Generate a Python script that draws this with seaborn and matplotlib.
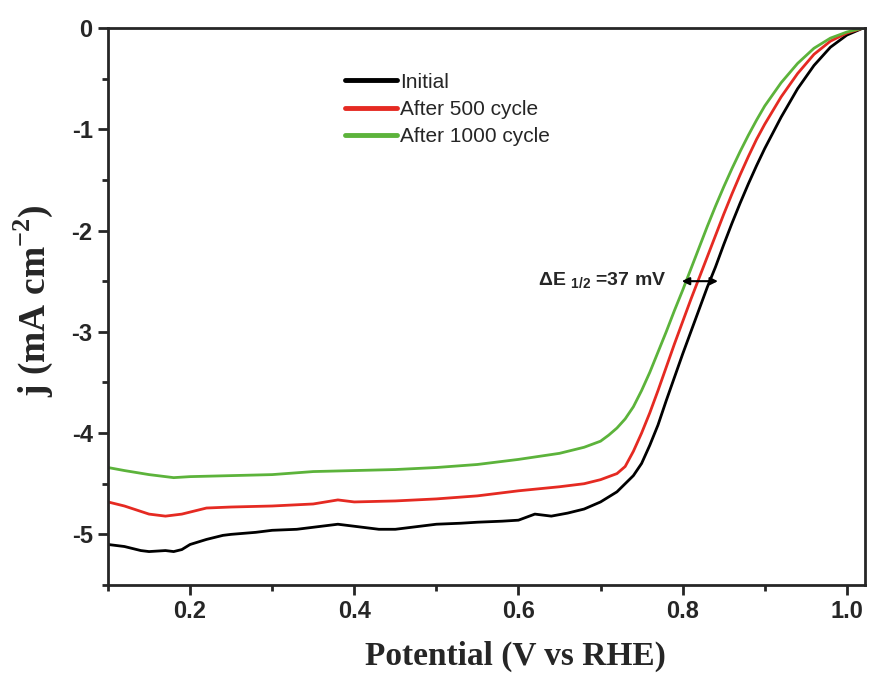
import numpy as np
import pandas as pd
import matplotlib
matplotlib.use("Agg")
import matplotlib.pyplot as plt
from matplotlib.ticker import MultipleLocator
import seaborn as sns

# LSV curves (potential in V vs RHE, current density in mA cm-2)
initial_v = [0.10, 0.12, 0.14, 0.15, 0.17, 0.18, 0.19, 0.20, 0.22, 0.24, 0.25, 0.28,
             0.30, 0.33, 0.35, 0.38, 0.40, 0.43, 0.45, 0.48, 0.50, 0.53, 0.55, 0.58,
             0.60, 0.62, 0.64, 0.66, 0.68, 0.70, 0.72, 0.73, 0.74, 0.75, 0.76, 0.77,
             0.78, 0.79, 0.80, 0.81, 0.82, 0.83, 0.84, 0.85, 0.86, 0.87, 0.88, 0.89,
             0.90, 0.92, 0.94, 0.96, 0.98, 1.00, 1.02]
initial_j = [-5.10, -5.12, -5.16, -5.17, -5.16, -5.17, -5.15, -5.10, -5.05, -5.01, -5.00, -4.98,
             -4.96, -4.95, -4.93, -4.90, -4.92, -4.95, -4.95, -4.92, -4.90, -4.89, -4.88, -4.87,
             -4.86, -4.80, -4.82, -4.79, -4.75, -4.68, -4.58, -4.50, -4.42, -4.30, -4.12, -3.92,
             -3.68, -3.45, -3.22, -3.00, -2.78, -2.56, -2.36, -2.14, -1.93, -1.73, -1.54, -1.36,
             -1.19, -0.88, -0.60, -0.37, -0.19, -0.07, 0.00]

c500_v = [0.10, 0.12, 0.15, 0.17, 0.19, 0.22, 0.25, 0.30, 0.35, 0.38, 0.40, 0.45,
          0.50, 0.55, 0.60, 0.65, 0.68, 0.70, 0.72, 0.73, 0.74, 0.75, 0.76, 0.77,
          0.78, 0.79, 0.80, 0.81, 0.82, 0.83, 0.84, 0.85, 0.86, 0.87, 0.88, 0.89,
          0.90, 0.92, 0.94, 0.96, 0.98, 1.00, 1.02]
c500_j = [-4.68, -4.72, -4.80, -4.82, -4.80, -4.74, -4.73, -4.72, -4.70, -4.66, -4.68, -4.67,
          -4.65, -4.62, -4.57, -4.53, -4.50, -4.46, -4.40, -4.33, -4.18, -4.00, -3.80, -3.58,
          -3.35, -3.12, -2.90, -2.68, -2.47, -2.26, -2.05, -1.84, -1.64, -1.45, -1.27, -1.10,
          -0.95, -0.68, -0.45, -0.26, -0.13, -0.05, 0.00]

c1000_v = [0.10, 0.12, 0.15, 0.18, 0.20, 0.25, 0.30, 0.35, 0.40, 0.45, 0.50, 0.55,
           0.60, 0.65, 0.68, 0.70, 0.71, 0.72, 0.73, 0.74, 0.75, 0.76, 0.77, 0.78,
           0.79, 0.80, 0.81, 0.82, 0.83, 0.84, 0.85, 0.86, 0.87, 0.88, 0.89, 0.90,
           0.92, 0.94, 0.96, 0.98, 1.00, 1.02]
c1000_j = [-4.34, -4.37, -4.41, -4.44, -4.43, -4.42, -4.41, -4.38, -4.37, -4.36, -4.34, -4.31,
           -4.26, -4.20, -4.14, -4.08, -4.02, -3.95, -3.86, -3.74, -3.58, -3.40, -3.20, -3.00,
           -2.79, -2.59, -2.38, -2.17, -1.96, -1.76, -1.57, -1.39, -1.22, -1.06, -0.91, -0.77,
           -0.54, -0.35, -0.20, -0.10, -0.04, 0.00]

labels = ["Initial", "After 500 cycle", "After 1000 cycle"]
colors = ["#000000", "#e52a22", "#5cb33b"]

df = pd.concat([
    pd.DataFrame({"E": initial_v, "j": initial_j, "curve": labels[0]}),
    pd.DataFrame({"E": c500_v, "j": c500_j, "curve": labels[1]}),
    pd.DataFrame({"E": c1000_v, "j": c1000_j, "curve": labels[2]}),
], ignore_index=True)

sns.set_style("ticks")
plt.rcParams["font.family"] = ["Liberation Sans", "DejaVu Sans"]
plt.rcParams["mathtext.fontset"] = "custom"
plt.rcParams["mathtext.rm"] = "Liberation Serif:bold"

fig = plt.figure(figsize=(8.73, 6.83), dpi=100)
ax = fig.add_axes([0.1237, 0.1435, 0.867, 0.8155])

sns.lineplot(data=df, x="E", y="j", hue="curve", palette=colors, hue_order=labels,
             estimator=None, sort=False, linewidth=2.0, ax=ax)

ax.set_xlim(0.1, 1.022)
ax.set_ylim(-5.5, 0.0)
ax.xaxis.set_major_locator(MultipleLocator(0.2))
ax.xaxis.set_minor_locator(MultipleLocator(0.1))
ax.yaxis.set_major_locator(MultipleLocator(1))
ax.yaxis.set_minor_locator(MultipleLocator(0.5))
ax.set_xticks([0.2, 0.4, 0.6, 0.8, 1.0])
ax.set_xticklabels(["0.2", "0.4", "0.6", "0.8", "1.0"])
ax.set_yticks([0, -1, -2, -3, -4, -5])
ax.set_yticklabels(["0", "-1", "-2", "-3", "-4", "-5"])
ax.tick_params(which="major", direction="out", length=7, width=2,
               labelsize=17, pad=4)
ax.tick_params(which="minor", direction="out", length=4, width=2)
for lab in ax.get_xticklabels() + ax.get_yticklabels():
    lab.set_fontweight("bold")
for s in ax.spines.values():
    s.set_linewidth(2)
    s.set_visible(True)

ax.set_xlabel("Potential (V vs RHE)", fontsize=24, fontweight="bold",
              family="Liberation Serif")
ax.set_ylabel(r"j (mA cm$^{\mathregular{-2}}$)", fontsize=27, fontweight="bold",
              family="Liberation Serif")
ax.xaxis.set_label_coords(0.538, -0.10)
ax.yaxis.set_label_coords(-0.07, 0.51)

leg = ax.legend(loc="upper left", bbox_to_anchor=(0.302, 0.935), frameon=False,
                fontsize=15, handlelength=2.5, handletextpad=0.15,
                labelspacing=0.4, borderaxespad=0)
for h in leg.get_lines():
    h.set_linewidth(3.5)

ax.annotate("", xy=(0.799, -2.5), xytext=(0.843, -2.5),
            arrowprops=dict(arrowstyle="<|-|>", color="black", lw=1.5,
                            mutation_scale=11, shrinkA=0, shrinkB=0))
ax.text(0.624, -2.5, r"ΔE $_{\mathregular{1/2}}$ =37 mV", fontsize=14,
        fontweight="bold", va="center", ha="left")

fig.savefig("out.png", dpi=100)
